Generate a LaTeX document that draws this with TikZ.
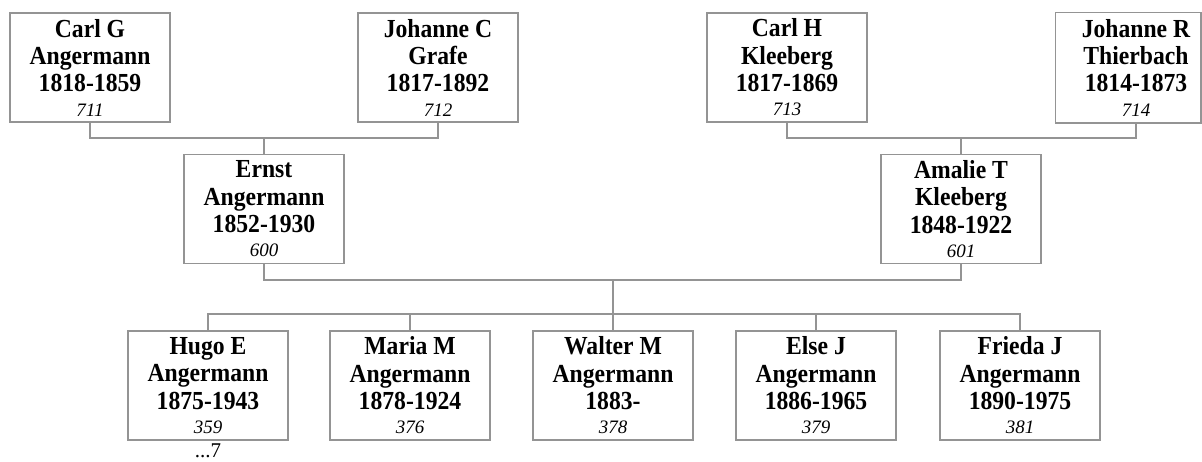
\documentclass[tikz,border=0pt]{standalone}
\usepackage{fontspec}
\setmainfont{Liberation Serif}
\newfontfamily\cardfont[FakeStretch=0.91]{Liberation Serif}
\newcommand{\famcard}[4]{#1\\#2\\#3\\[-1.6pt]{\rmfamily\fontsize{9.5}{10}\selectfont\mdseries\itshape #4}}
\begin{document}
\begin{tikzpicture}[x=0.5pt,y=-0.5pt,
		person/.style={draw=black!42, line width=0.75pt, minimum width=80pt, minimum height=54.5pt,
			inner sep=0pt, align=center, font=\cardfont\fontsize{13}{13.7}\selectfont\bfseries},
		link/.style={draw=black!42, line width=0.75pt}]
		\useasboundingbox (0,0) rectangle (1202,461);

		% grandparents
		\node[person] (carlg) at (90,67.5) {\famcard{Carl G}{Angermann}{1818-1859}{711}};
		\node[person] (johc) at (438,67.5) {\famcard{Johanne C}{Grafe}{1817-1892}{712}};
		\node[person] (carlh) at (787,67.5) {\famcard{Carl H}{Kleeberg}{1817-1869}{713}};
		\node[person, draw=none] (johr) at (1136,67.5) {\famcard{Johanne R}{Thierbach}{1814-1873}{714}};
		\coordinate (rim) at (1201,0);
		\draw[link] (johr.north west) rectangle (johr.south -| rim);

		% parents
		\node[person] (ernst) at (264,209) {\famcard{Ernst}{Angermann}{1852-1930}{600}};
		\node[person] (amalie) at (961,209) {\famcard{Amalie T}{Kleeberg}{1848-1922}{601}};

		% children
		\node[person] (hugo) at (208,385.5) {\famcard{Hugo E}{Angermann}{1875-1943}{359}};
		\node[person] (maria) at (410,385.5) {\famcard{Maria M}{Angermann}{1878-1924}{376}};
		\node[person] (walter) at (613,385.5) {\famcard{Walter M}{Angermann}{1883-}{378}};
		\node[person] (else) at (816,385.5) {\famcard{Else J}{Angermann}{1886-1965}{379}};
		\node[person] (frieda) at (1020,385.5) {\famcard{Frieda J}{Angermann}{1890-1975}{381}};
		\node[below, yshift=-1.5pt, inner sep=0pt, font=\fontsize{10.5}{11}\selectfont] (more) at (hugo.south) {...7};

		% lines
		\coordinate (ang) at (264,138);
		\coordinate (kle) at (961,138);
		\coordinate (cpl) at (613,280);
		\coordinate (kids) at (613,314);
		\draw[link] (carlg.south) |- (ang) -| (johc.south);
		\draw[link] (ang) -- (ernst.north);
		\draw[link] (carlh.south) |- (kle) -| (johr.south);
		\draw[link] (kle) -- (amalie.north);
		\draw[link] (ernst.south) |- (cpl) -| (amalie.south);
		\draw[link] (cpl) -- (walter.north);
		\draw[link] (hugo.north) |- (kids) -| (frieda.north);
		\draw[link] (maria.north) -- (maria.north |- kids);
		\draw[link] (else.north) -- (else.north |- kids);
	\end{tikzpicture}
\end{document}
